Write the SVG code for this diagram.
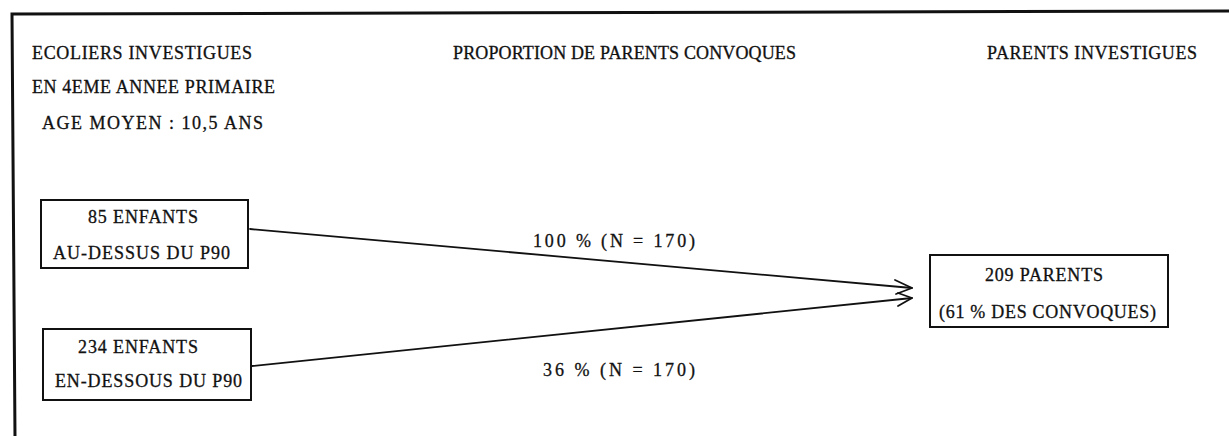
<svg xmlns="http://www.w3.org/2000/svg" width="1229" height="436" viewBox="0 0 1229 436">
<defs>
<style>
text{font-family:"Liberation Serif","DejaVu Serif",serif;font-size:18px;fill:#111;stroke:#111;stroke-width:0.3;}
.box{fill:none;stroke:#111;stroke-width:2;}
.frame{fill:none;stroke:#111;stroke-width:3;}
.conn{fill:none;stroke:#111;stroke-width:1.8;stroke-linecap:round;stroke-linejoin:round;}
</style>
</defs>
<rect width="1229" height="436" fill="#fff"/>
<path class="frame" d="M1229,11 L12,14 L15,436"/>
<g id="headers">
<text x="32" y="59" textLength="220" lengthAdjust="spacing">ECOLIERS INVESTIGUES</text>
<text x="32" y="93" textLength="243" lengthAdjust="spacing">EN 4EME ANNEE PRIMAIRE</text>
<text x="42" y="129" textLength="221" lengthAdjust="spacing">AGE MOYEN : 10,5 ANS</text>
<text x="453" y="59" textLength="343" lengthAdjust="spacing">PROPORTION DE PARENTS CONVOQUES</text>
<text x="987" y="59" textLength="210" lengthAdjust="spacing">PARENTS INVESTIGUES</text>
</g>
<g id="node-au-dessus">
<rect class="box" x="41" y="200" width="207" height="68"/>
<text x="88" y="223" textLength="110" lengthAdjust="spacing">85 ENFANTS</text>
<text x="53" y="259" textLength="177" lengthAdjust="spacing">AU-DESSUS DU P90</text>
</g>
<g id="node-en-dessous">
<rect class="box" x="43" y="329" width="208" height="71"/>
<text x="78" y="353" textLength="120" lengthAdjust="spacing">234 ENFANTS</text>
<text x="55" y="387" textLength="187" lengthAdjust="spacing">EN-DESSOUS DU P90</text>
</g>
<g id="node-parents">
<rect class="box" x="930" y="255" width="238" height="72"/>
<text x="985" y="281" textLength="118" lengthAdjust="spacing">209 PARENTS</text>
<text x="939" y="318" textLength="217" lengthAdjust="spacing">(61 % DES CONVOQUES)</text>
</g>
<g id="connectors">
<path class="conn" d="M250,229 L912,288"/>
<path class="conn" d="M895,280 L912,288 L896,294"/>
<path class="conn" d="M252,366 L912,298"/>
<path class="conn" d="M898,293 L912,298 L898,306"/>
<text x="533" y="247" textLength="162" lengthAdjust="spacing">100 % (N = 170)</text>
<text x="543" y="376" textLength="152" lengthAdjust="spacing">36 % (N = 170)</text>
</g>
</svg>
